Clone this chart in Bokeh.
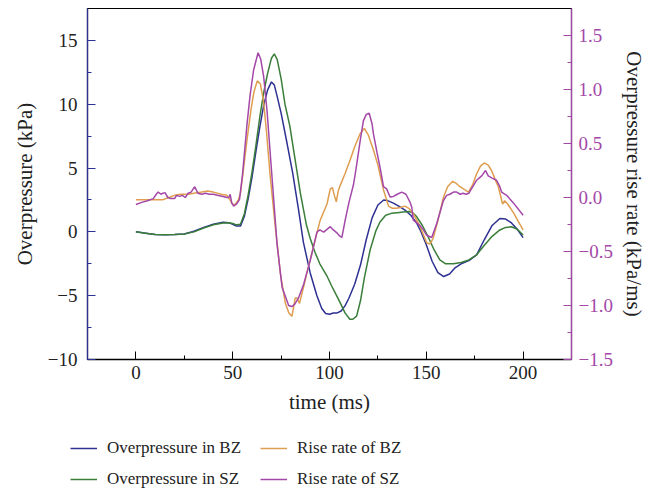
from bokeh.plotting import figure
from bokeh.models import Range1d, LinearAxis, FixedTicker, Legend, LegendItem
from bokeh.embed import file_html
from bokeh.resources import INLINE

# ---------------- data ----------------
t_bz = [0, 5, 10, 15, 20, 25, 30, 35, 40, 45, 48, 50, 52, 54, 56, 58, 60, 62, 64, 66, 68, 70,
        71.5, 73, 75, 78, 81, 84, 86.5, 90, 93.5, 96, 98, 100, 102, 104, 106, 108, 110, 113,
        116, 119, 122, 125, 128, 130, 133, 136, 139, 142, 145, 147, 150, 153, 156, 159, 162,
        165, 168, 172, 176, 180, 184, 188, 191, 194, 197, 200]
p_bz = [0, -0.1, -0.2, -0.22, -0.2, -0.17, 0.05, 0.35, 0.6, 0.75, 0.72, 0.6, 0.45, 0.45, 1.2,
        2.6, 4.3, 6.3, 8.2, 9.9, 11.1, 11.75, 11.5, 10.6, 9.3, 7.0, 4.6, 1.75, -0.8, -3.2, -5.0,
        -6.0, -6.4, -6.45, -6.35, -6.35, -6.2, -5.8, -5.2, -4.1, -2.6, -0.6, 1.1, 2.1, 2.5, 2.45,
        2.25, 2.0, 1.7, 1.3, 0.7, 0.1, -1.0, -2.3, -3.2, -3.5, -3.3, -2.8, -2.5, -2.25, -1.8,
        -0.6, 0.5, 1.05, 1.0, 0.7, 0.2, -0.45]

t_sz = [0, 5, 10, 15, 20, 25, 30, 35, 40, 45, 48, 50, 52, 54, 56, 58, 60, 62, 64, 66, 68, 70,
        71.5, 73, 75, 77, 79.5, 82, 85, 88, 90, 92.5, 95, 98.5, 101, 104, 106, 108, 110.5, 112,
        114, 116, 118, 121, 124, 126, 129, 132, 135, 138, 141, 143, 145, 148, 151, 154, 157,
        160, 164, 168, 172, 176, 180, 184, 188, 191, 194, 197, 200]
p_sz = [0, -0.1, -0.2, -0.22, -0.2, -0.17, 0.0, 0.3, 0.55, 0.7, 0.72, 0.65, 0.55, 0.6, 1.4,
        2.9, 4.7, 6.8, 9.0, 10.9, 12.4, 13.6, 13.95, 13.5, 12.0, 10.0, 8.3, 5.9, 3.0, 0.6, -0.5,
        -1.6, -2.5, -3.4, -4.2, -5.1, -5.7, -6.35, -6.85, -6.85, -6.6, -5.4, -3.6, -1.4, 0.1,
        0.75, 1.3, 1.45, 1.5, 1.55, 1.6, 1.5, 1.2, 0.5, -0.4, -1.4, -2.2, -2.5, -2.5, -2.4,
        -2.2, -1.8, -1.05, -0.35, 0.15, 0.35, 0.4, 0.2, -0.25]

t_rbz = [0, 5, 10, 14, 17, 20, 23, 27, 30, 34, 37, 40, 44, 47, 48.5, 50, 51.5, 53, 54, 55.5,
         57.5, 59.5, 61, 62.7, 64.3, 66, 67.5, 69.4, 72, 74.6, 77.2, 79, 80.6, 82.3, 83.2, 84.5,
         86.6, 89, 91.8, 95.2, 98.7, 100.4, 101.5, 102.5, 103.5, 104.5, 105.5, 108, 110.7, 113,
         115.8, 118, 120, 122.7, 125, 127.9, 130.5, 132.5, 134.7, 137, 139, 141, 143.3, 146.8,
         150.2, 151.9, 153.5, 155, 157, 158.8, 161, 163.6, 165.5, 167.4, 170, 171.7, 174, 176,
         178, 179.9, 182, 183.7, 185.5, 187.2, 189.4, 190.5, 192, 195, 197.5, 200]
r_bz = [-0.02, -0.02, -0.02, -0.02, 0.0, 0.02, 0.03, 0.03, 0.04, 0.05, 0.06, 0.05, 0.03, 0.02,
        -0.02, -0.065, -0.06, -0.02, 0.04, 0.25, 0.55, 0.82, 0.98, 1.08, 1.05, 0.88, 0.6, 0.19,
        -0.27, -0.7, -0.98, -1.07, -1.1, -0.93, -0.93, -0.98, -0.83, -0.65, -0.45, -0.21, -0.06,
        0.08, 0.09, 0.02, -0.04, 0.06, 0.11, 0.22, 0.35, 0.47, 0.59, 0.64, 0.58, 0.44, 0.3, 0.07,
        -0.08, -0.1, -0.1, -0.09, -0.08, -0.1, -0.15, -0.27, -0.42, -0.43, -0.38, -0.28, -0.14,
        0.0, 0.1, 0.15, 0.13, 0.1, 0.07, 0.05, 0.12, 0.22, 0.29, 0.32, 0.3, 0.25, 0.17, 0.1,
        -0.06, -0.03, -0.06, -0.14, -0.22, -0.3]

t_rsz = [0, 3, 6, 9, 10.5, 11.5, 13, 14, 15, 16.5, 18, 20, 21, 22.5, 24, 25.5, 27, 28.5, 30.4,
         32, 34, 36, 38, 40, 42, 45, 47, 48, 48.7, 49.5, 50.5, 52, 53.5, 55, 57.4, 59, 60.8,
         63.1, 64.5, 66, 67.7, 70.3, 72.9, 75.5, 78.9, 80.5, 82, 84, 86.7, 90.1, 93.5, 95, 97,
         99, 100.4, 102, 104, 105.5, 106.4, 108.1, 110, 112.4, 114, 115.8, 117.5, 119, 120.5,
         122, 122.7, 124.5, 126.1, 127.9, 129.5, 131.3, 133, 135, 137.3, 139.5, 141.5, 142.5,
         143.3, 146.8, 148.5, 150.2, 152.8, 155.4, 158.8, 160.5, 162.2, 164, 165.7, 167.5, 169,
         170.5, 172, 174, 176, 178.6, 180.6, 182, 184, 186.3, 188, 188.9, 191.5, 195, 200]
r_sz = [-0.065, -0.045, -0.03, -0.01, 0.03, 0.05, 0.03, 0.04, 0.045, 0.0, -0.01, -0.01, 0.02,
        0.01, 0.02, 0.0, 0.04, 0.05, 0.1, 0.04, 0.03, 0.04, 0.03, 0.03, 0.02, 0.01, 0.0, 0.0,
        0.03, -0.05, -0.08, -0.06, -0.02, 0.2, 0.68, 0.95, 1.18, 1.34, 1.28, 1.12, 0.81, 0.19,
        -0.43, -0.83, -1.0, -1.01, -0.99, -0.93, -0.8, -0.58, -0.32, -0.3, -0.32, -0.29, -0.27,
        -0.3, -0.33, -0.36, -0.37, -0.21, -0.05, 0.12, 0.3, 0.52, 0.71, 0.77, 0.78, 0.68, 0.59,
        0.42, 0.28, 0.1, 0.08, 0.005, 0.01, 0.03, 0.05, 0.03, -0.04, -0.09, -0.21, -0.26, -0.3,
        -0.35, -0.37, -0.24, -0.03, 0.02, 0.03, 0.05, 0.05, 0.03, 0.04, 0.03, 0.04, 0.1, 0.16,
        0.2, 0.25, 0.2, 0.18, 0.16, 0.1, 0.05, 0.02, -0.05, -0.165]

x_ticks = [0, 50, 100, 150, 200]
x_minor = [25, 75, 125, 175]
y_ticks = [-10, -5, 0, 5, 10, 15]
y_minor = [-7.5, -2.5, 2.5, 7.5, 12.5]
y_labels = {-10: "\u221210", -5: "\u22125", 0: "0", 5: "5", 10: "10", 15: "15"}
r_ticks = [-1.5, -1.0, -0.5, 0.0, 0.5, 1.0, 1.5]
r_minor = [-1.25, -0.75, -0.25, 0.25, 0.75, 1.25]
r_labels = {-1.5: "\u22121.5", -1.0: "\u22121.0", -0.5: "\u22120.5", 0.0: "0.0",
            0.5: "0.5", 1.0: "1.0", 1.5: "1.5"}

labels = ["Overpressure in BZ", "Overpressure in SZ", "Rise rate of BZ", "Rise rate of SZ"]

# ---------------- style ----------------
NAVY = "#2E3192"
GREEN = "#3A7E3A"
ORANGE = "#DF9D50"
PURPLE = "#A348A9"
FONT = "Liberation Serif"

p = figure(width=659, height=425, output_backend="svg", toolbar_location=None,
           x_range=Range1d(-25, 225), y_range=Range1d(-10, 17.5),
           min_border_left=87, min_border_right=88, min_border_top=8, min_border_bottom=66)
p.extra_y_ranges = {"rate": Range1d(-1.5, 1.75)}
p.grid.visible = False
p.outline_line_color = "black"
p.outline_line_width = 1.2
p.background_fill_color = "white"
p.border_fill_color = "white"

r1 = p.line(t_bz, p_bz, color=NAVY, line_width=1.5)
r2 = p.line(t_sz, p_sz, color=GREEN, line_width=1.5)
r3 = p.line(t_rbz, r_bz, color=ORANGE, line_width=1.5, y_range_name="rate")
r4 = p.line(t_rsz, r_sz, color=PURPLE, line_width=1.5, y_range_name="rate")

def style_axis(ax, color, label_color):
    ax.axis_line_color = color
    ax.axis_line_width = 1.3
    ax.major_tick_line_color = color
    ax.minor_tick_line_color = color
    ax.major_tick_in = 8
    ax.major_tick_out = 0
    ax.minor_tick_in = 4
    ax.minor_tick_out = 0
    ax.major_label_text_font = FONT
    ax.major_label_text_font_size = "19px"
    ax.major_label_text_color = label_color
    ax.axis_label_text_font = FONT
    ax.axis_label_text_font_size = "21px"
    ax.axis_label_text_font_style = "normal"
    ax.axis_label_text_color = "#222222"

xa = p.xaxis[0]
style_axis(xa, "black", "#222222")
xa.ticker = FixedTicker(ticks=x_ticks, minor_ticks=x_minor)
xa.axis_label = "time (ms)"
xa.major_label_standoff = 6
xa.axis_label_standoff = 8

ya = p.yaxis[0]
style_axis(ya, NAVY, "#222222")
ya.ticker = FixedTicker(ticks=y_ticks, minor_ticks=y_minor)
ya.major_label_overrides = y_labels
ya.axis_label = "Overpressure (kPa)"
ya.major_label_standoff = 10
ya.axis_label_standoff = 8

ra = LinearAxis(y_range_name="rate", axis_label="Overpressure rise rate (kPa/ms)")
style_axis(ra, PURPLE, PURPLE)
ra.ticker = FixedTicker(ticks=r_ticks, minor_ticks=r_minor)
ra.major_label_overrides = r_labels
ra.major_label_standoff = 7
ra.axis_label_standoff = 6
p.add_layout(ra, "right")

# ---------------- legend strip (separate root, so its frame is not aligned) ----------------
q = figure(width=659, height=67, output_backend="svg", toolbar_location=None,
           x_range=Range1d(0, 1), y_range=Range1d(0, 1),
           x_axis_location=None, y_axis_location=None,
           min_border_left=0, min_border_right=0, min_border_top=0, min_border_bottom=0)
q.grid.visible = False
q.outline_line_color = None
q.background_fill_color = "white"
q.border_fill_color = "white"
colors = [NAVY, GREEN, ORANGE, PURPLE]
# legend-key renderers only: their points lie outside the strip's view range
dummies = [q.line([-5, -4], [-5, -5], color=c, line_width=1.5) for c in colors]

def make_legend(items, loc):
    return Legend(items=items, location=loc, orientation="vertical",
                  label_text_font=FONT, label_text_font_size="17px",
                  label_text_color="#222222", glyph_width=27, glyph_height=24,
                  label_height=24, label_standoff=10, spacing=7, padding=0, margin=0,
                  border_line_color=None, background_fill_alpha=0)

lg1 = make_legend([LegendItem(label=labels[0], renderers=[dummies[0]]),
                   LegendItem(label=labels[1], renderers=[dummies[1]])], (70, 1))
lg2 = make_legend([LegendItem(label=labels[2], renderers=[dummies[2]]),
                   LegendItem(label=labels[3], renderers=[dummies[3]])], (260, 1))
q.add_layout(lg1)
q.add_layout(lg2)

open("out.html", "w").write(file_html([p, q], INLINE))
